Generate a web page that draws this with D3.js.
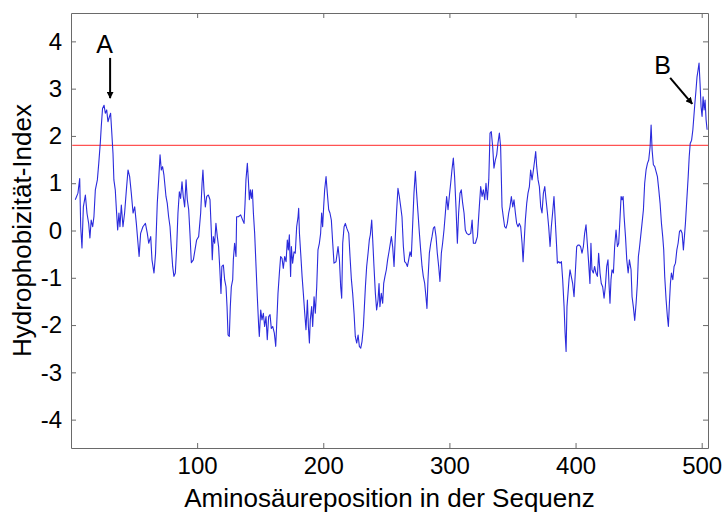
<!DOCTYPE html>
<html>
<head>
<meta charset="utf-8">
<script src="https://cdn.jsdelivr.net/npm/d3@7/dist/d3.min.js"></script>
<style>
  body { margin: 0; background: #fff; }
  svg text { font-family: "Liberation Sans", Arial, sans-serif; fill: #000; }
  .axis path, .axis line { stroke: #6a6a6a; }
</style>
</head>
<body>
<svg id="chart" width="726" height="522"></svg>
<script>
/*** DATA ***/
// hydrophobicity profile, [position, index]
var profile = [
  [3.4,0.65],[5.5,0.79],[6.9,1.1],[7.7,0.08],[8.7,-0.37],[9.8,0.5],[11.4,0.75],[12.7,0.36],[14,0.15],[15,-0.16],
  [16,0.22],[17.2,0.08],[18.2,0.3],[19.3,0.86],[20.9,1.07],[22,1.42],[23.3,1.88],[24,2.2],[25,2.58],[26.2,2.65],
  [27.2,2.48],[28.3,2.55],[29.3,2.3],[30.4,2.4],[31.4,2.48],[32.2,2.13],[33.3,1.63],[34,1.07],[35.1,0.86],[36,0.44],
  [37,0.01],[38,0.37],[38.8,0.08],[39.9,0.54],[41.2,0.08],[42.5,0.37],[43.9,0.86],[45.2,1.28],[46.5,1.14],[47.8,0.79],
  [49.2,0.37],[50.5,0.5],[51.8,0.15],[53.1,-0.27],[54,-0.55],[55.2,-0.06],[57,0.08],[59,0.15],[60.5,-0.06],[61.6,-0.27],
  [63.2,-0.13],[64.2,-0.62],[65.8,-0.9],[67,-0.5],[68.4,0.58],[69.5,1.07],[70.6,1.6],[71.6,1.28],[72.6,1.35],[73.7,1.17],
  [75.3,0.72],[76.3,0.58],[77.4,0.29],[78.5,0.08],[79.5,-0.34],[80.6,-0.76],[81.6,-0.97],[82.7,-0.9],[83.8,-0.34],[84.8,0.37],
  [85.9,0.82],[86.9,0.68],[88,1.03],[89,0.72],[90.1,0.5],[91.2,1.07],[92.2,0.65],[93.3,0.44],[94.3,-0.06],[95.4,-0.68],
  [97,-0.62],[98.3,-0.41],[99.6,-0.2],[101.2,-0.13],[102.8,0.37],[103.9,1.0],[104.6,1.28],[105.4,0.86],[106.5,0.5],[107.6,0.72],
  [108.9,0.75],[110.2,0.65],[111.2,0.01],[112,-0.62],[112.8,-0.13],[113.9,-0.27],[114.9,0.15],[116,-0.13],[117,-0.34],[118,-0.83],
  [118.9,-1.33],[119.6,-0.76],[120.8,-0.73],[121.8,-1.04],[122.9,-1.19],[123.7,-1.61],[124.5,-2.21],[125.5,-2.24],[126.3,-1.61],[127.1,-1.19],
  [128.2,-1.04],[128.7,-0.62],[129.7,-0.27],[130.8,-0.55],[131.3,0.29],[132.7,0.29],[134.5,0.33],[136.1,0.22],[137.2,0.15],[138,0.58],
  [138.7,1.07],[139.8,1.42],[140.6,1.07],[141.4,0.65],[142.2,0.86],[143,0.68],[143.8,0.86],[144.6,0.37],[145.6,-0.06],[146.7,-0.76],
  [147.7,-1.4],[148.8,-2.03],[149.3,-2.24],[150.4,-1.68],[151.4,-1.89],[152.5,-1.75],[153.5,-2.03],[154.6,-1.82],[155.6,-2.31],[156.7,-1.82],
  [157.8,-1.78],[158.8,-2.07],[159.9,-2.03],[161.2,-2.17],[162.3,-2.45],[163,-2.03],[164.1,-1.33],[165.2,-0.9],[166.2,-0.55],[167.3,-0.59],
  [168.3,-0.8],[169.4,-0.55],[170.5,-0.66],[171.5,-0.2],[172.3,-0.41],[173.1,-0.09],[174.1,-0.97],[174.7,-0.34],[175.7,-0.69],[176.8,-0.45],
  [177.8,-0.48],[178.9,0.08],[180,0.29],[180.5,0.47],[181.1,-0.06],[182.1,-0.48],[183.2,-0.97],[184.2,-1.33],[185.3,-1.75],[186.3,-2.1],
  [187.4,-1.47],[188.2,-2.03],[189,-2.38],[189.7,-1.89],[190.8,-1.61],[191.6,-2.03],[192.7,-1.4],[193.7,-1.75],[194.8,-1.19],[195.8,-0.41],
  [196.9,-0.27],[197.9,-0.06],[198.7,0.37],[199.5,0.08],[200.3,0.5],[201.1,0.86],[202.2,1.14],[203.2,0.79],[204.3,0.44],[205.3,0.37],
  [206.4,0.22],[207.5,-0.27],[208.5,-0.69],[210.1,-0.66],[211.7,-0.34],[212.8,-0.62],[213.8,-1.19],[214.6,-1.43],[215.4,-0.27],[216.5,0.08],
  [217.5,0.15],[218.6,0.05],[220.2,-0.06],[221.2,-0.55],[222.3,-1.04],[223.3,-1.33],[224.4,-1.75],[225.4,-2.24],[226.5,-2.38],[227.6,-2.21],
  [228.6,-2.45],[229.7,-2.49],[230.7,-2.35],[231.8,-2.03],[232.6,-1.61],[233.4,-1.19],[234.4,-0.76],[235.5,-0.48],[236.5,-0.2],[237.3,-0.09],
  [238.4,0.22],[239.2,-0.2],[240.2,-0.76],[241.3,-1.33],[242.3,-1.68],[243.4,-1.47],[244.2,-1.12],[244.9,-1.61],[246,-1.33],[247.1,-1.54],
  [247.9,-1.12],[248.9,-0.97],[250,-0.83],[251,-0.62],[252.1,-0.45],[254,-0.13],[255,-0.34],[256.1,-0.76],[257.1,-0.13],[258.2,0.44],
  [259.2,0.89],[260.3,0.72],[261.4,0.5],[262.4,0.29],[263.5,-0.34],[264.5,-0.66],[265.6,-0.69],[266.7,-0.76],[267.7,-0.62],[268.8,-0.45],
  [269.8,-0.55],[270.9,0.15],[271.9,0.79],[273,1.25],[274,0.79],[275.1,0.37],[276.2,-0.06],[277.2,-0.41],[278.3,-0.76],[279.3,-0.97],
  [280.4,-1.12],[281.4,-1.4],[282.2,-1.65],[283,-1.04],[284.1,-0.48],[285.2,-0.27],[286.2,-0.13],[287.3,0.05],[288.3,0.08],[289.4,-0.13],
  [290.4,-0.48],[291.5,-0.76],[292.5,-1.08],[293.6,-0.48],[294.6,-0.27],[295.7,0.01],[296.8,0.37],[297.8,0.72],[298.9,0.44],[299.9,0.72],
  [301,1.0],[302,1.28],[303.1,1.53],[304.1,1.14],[305.2,0.5],[306.3,-0.27],[307.3,0.37],[308.4,0.79],[309.4,0.86],[310.5,0.58],
  [311.6,0.37],[312.6,0.01],[313.7,-0.06],[315.3,-0.09],[316.9,-0.06],[318,0.22],[319,-0.27],[320.6,-0.27],[322.2,-0.13],[323.7,0.5],
  [324.8,0.93],[325.9,0.72],[326.9,0.86],[328,0.65],[329,1.0],[330.1,0.65],[331.2,1.07],[332.2,2.06],[333.2,2.09],[334.3,1.77],
  [335.3,1.32],[336.4,1.49],[337.5,1.6],[338.5,1.85],[339.6,2.06],[340.6,1.77],[341.7,0.5],[342.7,0.29],[343.8,0.08],[344.9,0.05],
  [345.9,0.15],[347,0.37],[348,0.5],[349.1,0.72],[350.2,0.5],[351.2,0.65],[352.3,0.37],[353.3,0.15],[354.4,0.08],[355.4,0.15],
  [356.5,0.08],[357.6,-0.27],[358.4,-0.66],[359.2,-0.27],[360.2,0.22],[361.3,0.58],[362.3,0.79],[363.4,0.93],[364.4,1.28],[365.5,1.07],
  [366.6,1.28],[367.6,1.49],[368.4,1.67],[369.2,1.35],[370.3,1.07],[371.3,0.93],[372.4,0.5],[373.4,0.37],[374.5,0.79],[375.6,0.93],
  [376.6,0.65],[377.7,0.37],[378.7,0.08],[379.8,-0.34],[380.8,0.08],[381.8,0.37],[382.9,0.72],[383.9,0.22],[385,-0.34],[385.6,-0.69],
  [386.7,-0.66],[387.7,-0.69],[388.8,-0.66],[389.8,-1.04],[390.9,-1.61],[391.7,-2.17],[392.5,-2.56],[393.2,-1.61],[394,-1.33],[394.8,-1.04],
  [395.6,-0.83],[396.6,-0.97],[397.7,-1.12],[398.8,-1.4],[399.8,-0.9],[400.9,-0.34],[401.9,-0.31],[403,-0.31],[404,-0.34],[405.1,-0.48],
  [406.2,-0.34],[407.2,-0.06],[408.3,0.12],[409.3,-0.27],[410.4,-0.69],[411.4,-1.12],[412.2,-0.27],[413,-0.83],[414.1,-0.9],[415.1,-0.76],
  [416.2,-0.9],[417.3,-0.97],[418.3,-0.48],[419.4,-0.9],[420.4,-1.12],[421.5,-1.19],[422.6,-1.43],[423.6,-1.19],[424.7,-0.76],[425.7,-0.62],
  [426.5,-1.12],[427.3,-1.54],[428.1,-1.04],[428.9,-0.83],[430,-0.9],[431,-0.34],[432.1,0.01],[433.2,-0.34],[434.2,-0.27],[435.3,0.29],
  [436.1,0.72],[436.9,0.65],[437.7,0.72],[438.5,0.29],[439.6,-0.13],[440.6,-0.62],[441.7,-0.9],[442.7,-0.62],[444,-0.83],[444.8,-1.4],
  [445.8,-1.61],[446.9,-1.9],[448,-1.54],[449,-1.12],[449.8,-0.55],[450.6,-0.38],[451.6,-0.13],[452.7,0.15],[453.8,0.44],[454.8,1.0],
  [455.9,1.28],[457,1.42],[458,1.49],[459.1,1.77],[459.9,2.23],[460.7,1.7],[461.7,1.39],[462.8,1.35],[463.8,1.25],[464.9,1.14],
  [466,0.86],[467,0.58],[468.1,0.15],[469.1,-0.13],[469.9,-0.41],[470.7,-0.98],[471.8,-1.47],[472.8,-1.82],[473.6,-2.03],[474.4,-1.54],
  [475.2,-1.12],[476,-0.9],[477.1,-1.04],[478.1,-0.76],[479.2,-0.69],[480.3,-0.41],[481.3,-0.27],[482.4,-0.02],[483.4,0.01],[484.5,-0.06],
  [485.5,-0.41],[486.3,-0.13],[487.1,0.15],[488.2,0.65],[489.3,1.14],[490.1,1.56],[490.9,1.84],[492,1.91],[493,2.13],[493.8,2.41],
  [494.6,2.69],[495.5,2.97],[496.3,3.25],[497.1,3.39],[497.9,3.54],[498.7,3.11],[499.5,2.62],[500.3,2.41],[501.1,2.83],[501.9,2.55],
  [502.7,2.76],[503.5,2.34],[504.3,2.13]
];

var threshold = 1.8;
var x_ticks = [100, 200, 300, 400, 500];
var y_ticks = [-4, -3, -2, -1, 0, 1, 2, 3, 4];

// annotation labels: text position and arrow (from -> to) in data units
var note_labels = ["A", "B"];
var note_text   = [[26.6, 3.94], [469, 3.49]];
var note_arrow  = [[[31, 3.65], [31, 2.80]], [[475, 3.23], [492.5, 2.68]]];

/*** LAYOUT ***/
var svg = d3.select('#chart');
var margin = {top: 13, right: 18, bottom: 74, left: 71},
    width  = 726 - margin.left - margin.right,
    height = 522 - margin.top - margin.bottom;

var x = d3.scaleLinear().domain([0, 505]).range([0, width]);
var y = d3.scaleLinear().domain([-4.6, 4.6]).range([height, 0]);

// plain hyphen for negatives, like the original figure
var plain = function(d) { return String(d); };

var g = svg.append('g').attr('transform', `translate(${margin.left},${margin.top})`);

// axes with inward ticks on all four sides
g.append('g').attr('class', 'axis')
    .attr('transform', `translate(0,${height})`)
    .call(d3.axisBottom(x).tickValues(x_ticks).tickSize(-5).tickSizeOuter(0).tickPadding(9).tickFormat(plain));
g.append('g').attr('class', 'axis')
    .call(d3.axisTop(x).tickValues(x_ticks).tickSize(-5).tickSizeOuter(0).tickFormat(''));
g.append('g').attr('class', 'axis')
    .call(d3.axisLeft(y).tickValues(y_ticks).tickSize(-5).tickSizeOuter(0).tickPadding(9).tickFormat(plain));
g.append('g').attr('class', 'axis')
    .attr('transform', `translate(${width},0)`)
    .call(d3.axisRight(y).tickValues(y_ticks).tickSize(-5).tickSizeOuter(0).tickFormat(''));

g.selectAll('.axis text').style('font-size', '24px');

// threshold line
g.append('line')
    .attr('x1', x(1)).attr('x2', x(505))
    .attr('y1', y(threshold)).attr('y2', y(threshold))
    .attr('stroke', '#ff5252').attr('stroke-width', 1.3);

// profile
var line = d3.line().x(function(d) { return x(d[0]); }).y(function(d) { return y(d[1]); });
g.append('path')
    .datum(profile)
    .attr('d', line)
    .attr('fill', 'none')
    .attr('stroke', '#2b2bdc')
    .attr('stroke-width', 1.1)
    .attr('stroke-linejoin', 'round');

// arrow head
svg.append('defs').append('marker')
    .attr('id', 'head')
    .attr('viewBox', '0 -5 10 10')
    .attr('refX', 9).attr('refY', 0)
    .attr('markerWidth', 7).attr('markerHeight', 7)
    .attr('markerUnits', 'userSpaceOnUse')
    .attr('orient', 'auto')
  .append('path')
    .attr('d', 'M0,-5L10,0L0,5Z')
    .attr('fill', '#000');

for (var i = 0; i < note_labels.length; i++) {
    g.append('text')
        .attr('x', x(note_text[i][0]))
        .attr('y', y(note_text[i][1]))
        .attr('text-anchor', 'middle')
        .attr('dy', '0.36em')
        .style('font-size', '25px')
        .text(note_labels[i]);

    g.append('line')
        .attr('x1', x(note_arrow[i][0][0])).attr('y1', y(note_arrow[i][0][1]))
        .attr('x2', x(note_arrow[i][1][0])).attr('y2', y(note_arrow[i][1][1]))
        .attr('stroke', '#000').attr('stroke-width', 2)
        .attr('marker-end', 'url(#head)');
}

// axis titles
svg.append('text')
    .attr('x', margin.left + width / 2)
    .attr('y', 507)
    .attr('text-anchor', 'middle')
    .style('font-size', '26px')
    .text('Aminosäureposition in der Sequenz');

svg.append('text')
    .attr('transform', `translate(31,${margin.top + height / 2}) rotate(-90)`)
    .attr('text-anchor', 'middle')
    .style('font-size', '26px')
    .text('Hydrophobizität-Index');
</script>
</body>
</html>
